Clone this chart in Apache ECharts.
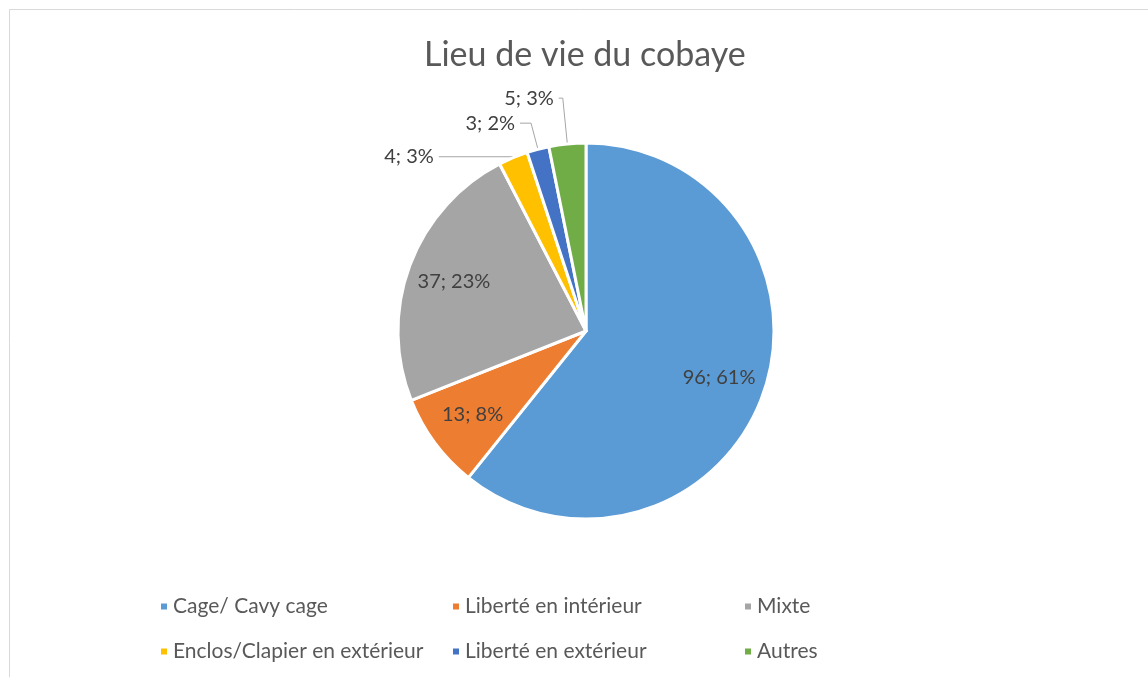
<!DOCTYPE html>
<html>
<head>
<meta charset="utf-8">
<script src="https://cdn.jsdelivr.net/npm/echarts@6/dist/echarts.min.js"></script>
<style>
  html, body { margin: 0; padding: 0; background: #fff; overflow: hidden; }
  #chart { width: 1148px; height: 677px; }
</style>
</head>
<body>
<div id="chart"></div>
<script>
// data
var titleText = 'Lieu de vie du cobaye';
var categories = ['Cage/ Cavy cage', 'Liberté en intérieur', 'Mixte',
  'Enclos/Clapier en extérieur', 'Liberté en extérieur', 'Autres'];
var counts = [96, 13, 37, 4, 3, 5];
var colors = ['#5B9BD5', '#ED7D31', '#A5A5A5', '#FFC000', '#4472C4', '#70AD47'];
var insideLabel = [true, true, true, false, false, false];
// leader line segments for the small outside slices
var leadLen = [0, 0, 0, 1, 27, 46];
var leadLen2 = [0, 0, 0, 74, 11, 4];

var fontFamily = 'Lato, "Noto Sans", sans-serif';

let myChart = echarts.init(document.getElementById('chart'));

let mainData = categories.map(function (name, i) {
  return {
    name: name,
    value: counts[i],
    itemStyle: { color: colors[i] },
    label: { show: !insideLabel[i] },
    labelLine: { show: !insideLabel[i], length: leadLen[i], length2: leadLen2[i] }
  };
});

let innerData = categories.map(function (name, i) {
  return {
    name: name,
    value: counts[i],
    label: { show: insideLabel[i] }
  };
});

var option = {
  animation: false,
  color: colors,
  graphic: [{
    type: 'rect',
    shape: { x: 9.5, y: 9.5, width: 1300, height: 800 },
    style: { fill: 'none', stroke: '#d9d9d9', lineWidth: 1 },
    silent: true,
    z: -10
  }],
  title: {
    text: titleText,
    left: 419,
    top: 33,
    textStyle: {
      color: '#595959',
      fontSize: 34,
      fontWeight: 'normal',
      fontFamily: fontFamily
    }
  },
  legend: {
    left: 154,
    top: 579,
    width: 900,
    itemWidth: 8,
    itemHeight: 8,
    itemGap: 0,
    icon: 'rect',
    data: categories,
    formatter: '{a|{name}}',
    textStyle: {
      color: '#595959',
      fontSize: 21,
      fontFamily: fontFamily,
      rich: {
        a: { width: 278, height: 45, lineHeight: 45, fontSize: 21, color: '#595959', fontFamily: fontFamily }
      }
    }
  },
  series: [{
    type: 'pie',
    center: [586, 331],
    radius: 188,
    startAngle: 90,
    clockwise: true,
    percentPrecision: 0,
    avoidLabelOverlap: false,
    itemStyle: { borderColor: '#ffffff', borderWidth: 3 },
    label: {
      position: 'outside',
      formatter: '{c}; {d}%',
      color: '#404040',
      fontSize: 20,
      fontFamily: fontFamily
    },
    labelLine: {
      lineStyle: { color: '#a6a6a6', width: 1 }
    },
    emphasis: { disabled: true },
    data: mainData
  }, {
    type: 'pie',
    center: [586, 331],
    radius: [128, 148],
    startAngle: 90,
    clockwise: true,
    percentPrecision: 0,
    silent: true,
    itemStyle: { color: 'rgba(0,0,0,0)' },
    label: {
      position: 'inside',
      formatter: '{c}; {d}%',
      color: '#404040',
      fontSize: 20,
      fontFamily: fontFamily
    },
    labelLine: { show: false },
    emphasis: { disabled: true },
    data: innerData
  }]
};

myChart.setOption(option);
window.addEventListener('resize', function () {
  myChart.resize();
});
</script>
</body>
</html>
